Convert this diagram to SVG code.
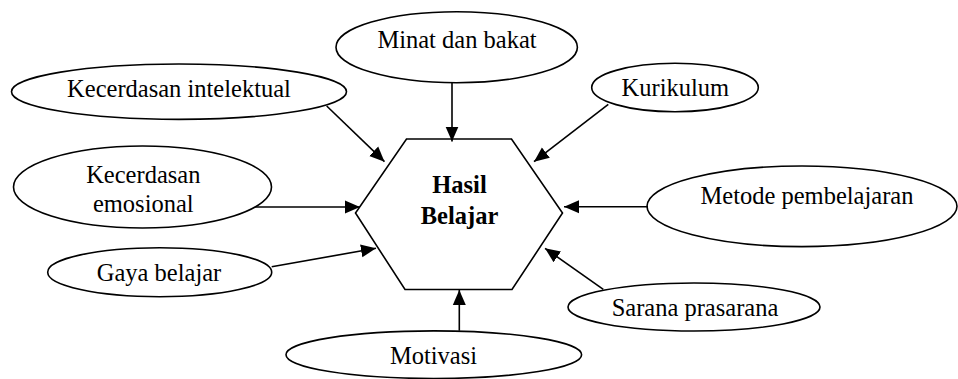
<svg xmlns="http://www.w3.org/2000/svg" width="958" height="379" viewBox="0 0 958 379">
<style>
.n{fill:#fff;stroke:#000;stroke-width:1.6}
.t{font-family:'Liberation Serif','DejaVu Serif',serif;font-size:24.5px;fill:#000;text-anchor:middle}
.b{font-weight:bold}
.c line{stroke:#000;stroke-width:1.6;marker-end:url(#ah)}
</style>
<defs>
<marker id="ah" markerUnits="userSpaceOnUse" markerWidth="16" markerHeight="14" refX="15" refY="6.5" orient="auto" viewBox="0 0 16 13">
<path d="M0,0 L15,6.5 L0,13 Z" fill="#000"/>
</marker>
</defs>
<rect width="958" height="379" fill="#fff"/>
<g id="hasil">
<polygon class="n" points="406.5,139 511.5,139 562.5,213 512,289.5 405,289.5 355.5,213"/>
<text class="t b" x="459.5" y="193" font-family="Liberation Serif, serif">Hasil</text>
<text class="t b" x="459.5" y="224" font-family="Liberation Serif, serif">Belajar</text>
</g>
<g id="minat"><ellipse class="n" cx="456.7" cy="47.2" rx="120.7" ry="35.5"/><text class="t" x="457" y="48">Minat dan bakat</text></g>
<g id="intelektual"><ellipse class="n" cx="179" cy="91.7" rx="167.5" ry="27.7"/><text class="t" x="179" y="96.7">Kecerdasan intelektual</text></g>
<g id="kurikulum"><ellipse class="n" cx="675" cy="87.5" rx="83.3" ry="24.2"/><text class="t" x="675.3" y="96">Kurikulum</text></g>
<g id="emosional"><ellipse class="n" cx="142.5" cy="187" rx="129" ry="41"/><text class="t" x="143.3" y="183.3">Kecerdasan</text><text class="t" x="143.3" y="211.7">emosional</text></g>
<g id="metode"><ellipse class="n" cx="802" cy="206.3" rx="155" ry="40.3"/><text class="t" x="807" y="204">Metode pembelajaran</text></g>
<g id="gaya"><ellipse class="n" cx="159.7" cy="272.2" rx="112" ry="24.5"/><text class="t" x="159" y="281">Gaya belajar</text></g>
<g id="sarana"><ellipse class="n" cx="694" cy="307" rx="126" ry="24"/><text class="t" x="695" y="315.7">Sarana prasarana</text></g>
<g id="motivasi"><ellipse class="n" cx="433.8" cy="354.7" rx="147.8" ry="23.8"/><text class="t" x="433.5" y="364.3">Motivasi</text></g>
<g id="connectors" class="c">
<line x1="452" y1="82.7" x2="452" y2="141.5"/>
<line x1="326.7" y1="106" x2="384.5" y2="161.7"/>
<line x1="608.3" y1="104.3" x2="534" y2="161.7"/>
<line x1="255" y1="207" x2="360" y2="207"/>
<line x1="648" y1="206.7" x2="564" y2="206.7"/>
<line x1="271.7" y1="266.7" x2="376" y2="248.3"/>
<line x1="603.3" y1="289.3" x2="545" y2="248.3"/>
<line x1="459.3" y1="330.7" x2="459.3" y2="290"/>
</g>
</svg>
